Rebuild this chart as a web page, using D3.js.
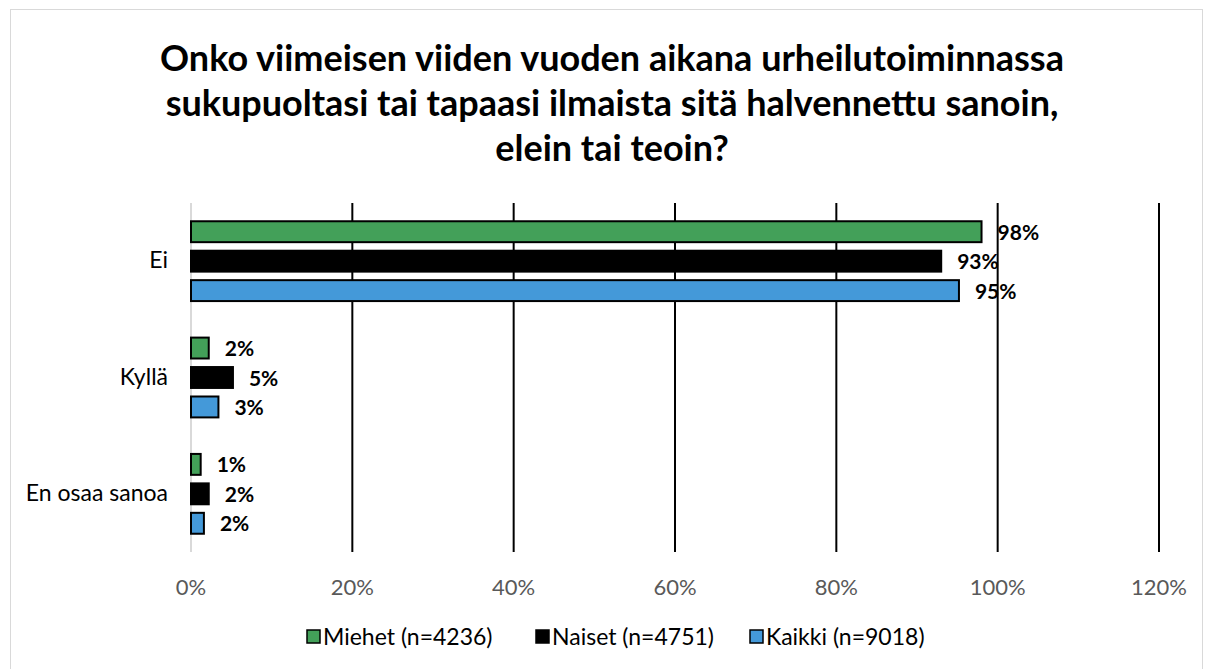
<!DOCTYPE html>
<html>
<head>
<meta charset="utf-8">
<script src="https://cdn.jsdelivr.net/npm/d3@7"></script>
<style>
  body { margin: 0; background: #fff; }
  svg { font-family: Lato, Calibri, 'Open Sans', sans-serif; }
</style>
</head>
<body>
<div id="chart"></div>
<script>
const categories = ['Ei', 'Kyllä', 'En osaa sanoa']
const seriesNames = ['Miehet (n=4236)', 'Naiset (n=4751)', 'Kaikki (n=9018)']
const miehet = [98.0, 2.2, 1.2]
const naiset = [93.0, 5.2, 2.2]
const kaikki = [95.2, 3.4, 1.6]
const xTicks = [0, 20, 40, 60, 80, 100, 120]
const titleLines = [
  'Onko viimeisen viiden vuoden aikana urheilutoiminnassa',
  'sukupuoltasi tai tapaasi ilmaista sitä halvennettu sanoin,',
  'elein tai teoin?'
]

const colors = ['#43a059', '#000000', '#4499d9']
const seriesValues = [miehet, naiset, kaikki]

const width = 1205, height = 669
const margin = { top: 203, right: 46, bottom: 117, left: 191 }

const svg = d3.select('#chart').append('svg')
  .attr('width', width).attr('height', height)

// chart border
svg.append('rect')
  .attr('x', 10.5).attr('y', 9.5)
  .attr('width', 1192).attr('height', 680)
  .attr('fill', 'none').attr('stroke', '#d9d9d9')

// title
svg.append('text')
  .attr('text-anchor', 'middle')
  .attr('font-size', 36).attr('font-weight', 'bold').attr('fill', '#000')
  .selectAll('tspan').data(titleLines).join('tspan')
  .attr('x', 612).attr('y', (d, i) => 71 + i * 45)
  .text(d => d)

const x = d3.scaleLinear().domain([0, 120]).range([margin.left, width - margin.right])
const y = d3.scaleBand().domain(categories).range([margin.top, height - margin.bottom])
const ySub = d3.scaleBand().domain(d3.range(seriesNames.length)).range([0, y.bandwidth()]).paddingInner(0.29).paddingOuter(0.62)

const g = svg.append('g')

// gridlines
g.selectAll('line.grid').data(xTicks.filter(t => t > 0)).join('line')
  .attr('class', 'grid')
  .attr('x1', d => x(d)).attr('x2', d => x(d))
  .attr('y1', margin.top).attr('y2', height - margin.bottom)
  .attr('stroke', '#000').attr('stroke-width', 2)

// zero axis
g.append('line')
  .attr('x1', x(0)).attr('x2', x(0))
  .attr('y1', margin.top).attr('y2', height - margin.bottom)
  .attr('stroke', '#d9d9d9').attr('stroke-width', 2)

// x tick labels
g.selectAll('text.tick').data(xTicks).join('text')
  .attr('class', 'tick')
  .attr('x', d => x(d)).attr('y', 595)
  .attr('text-anchor', 'middle')
  .attr('font-size', 22).attr('fill', '#595959')
  .text(d => d + '%')

// category labels
g.selectAll('text.cat').data(categories).join('text')
  .attr('class', 'cat')
  .attr('x', 168).attr('y', d => y(d) + y.bandwidth() / 2 + 7)
  .attr('text-anchor', 'end')
  .attr('font-size', 23).attr('fill', '#000')
  .text(d => d)

// bars
seriesValues.forEach((vals, si) => {
  const sg = g.append('g')
  sg.selectAll('rect').data(vals).join('rect')
    .attr('x', x(0))
    .attr('y', (d, i) => y(categories[i]) + ySub(si))
    .attr('width', d => x(d) - x(0))
    .attr('height', ySub.bandwidth())
    .attr('fill', colors[si])
    .attr('stroke', '#000').attr('stroke-width', 2)
  sg.selectAll('text').data(vals).join('text')
    .attr('x', d => x(d) + 16)
    .attr('y', (d, i) => y(categories[i]) + ySub(si) + ySub.bandwidth() / 2 + 8)
    .attr('font-size', 21).attr('font-weight', 'bold').attr('fill', '#000')
    .text(d => Math.round(d) + '%')
})

// legend
const legendX = [307, 536, 750]
const legend = svg.append('g')
seriesNames.forEach((name, i) => {
  legend.append('rect')
    .attr('x', legendX[i]).attr('y', 630)
    .attr('width', 13).attr('height', 13)
    .attr('fill', colors[i]).attr('stroke', '#000').attr('stroke-width', 1.5)
  legend.append('text')
    .attr('x', legendX[i] + 16).attr('y', 645)
    .attr('font-size', 23).attr('fill', '#000')
    .text(name)
})
</script>
</body>
</html>
